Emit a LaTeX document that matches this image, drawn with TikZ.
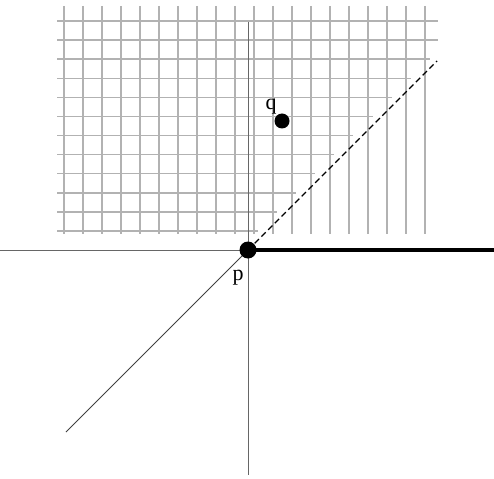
\documentclass[tikz,border=0pt]{standalone}
\usepackage{fontspec}
\setmainfont{Liberation Serif}
\begin{document}
\begin{tikzpicture}[x=1pt,y=-1pt,
  gridline/.style={draw=black!30,line width=1.4pt},
  axisline/.style={draw=black!60,line width=1pt},
  dotnode/.style={circle,fill=black,inner sep=0pt,minimum size=#1},
  lbl/.style={font=\fontsize{22}{24}\selectfont,inner sep=0pt,anchor=base}]
\useasboundingbox (0,0) rectangle (494,478);
% vertical grid lines
\foreach \k in {0,...,19}{
  \draw[gridline] ({64+19*\k},6) -- ({64+19*\k},234);
}
% horizontal grid lines (end before the dashed ray)
\foreach \k in {0,...,11}{
  \pgfmathsetmacro{\yy}{21+19.1*\k}
  \pgfmathsetmacro{\xe}{min(438,248+(250-\yy)-9)}
  \draw[gridline] (57,\yy) -- (\xe,\yy);
}
\coordinate (L) at (0,250);
\coordinate (R) at (494,250);
\coordinate (T) at (248,22);
\coordinate (B) at (248,475);
\coordinate (D) at (437,61);
\coordinate (E) at (66,432);
\coordinate (P) at (248,250);
\draw[axisline] (L) -- (P);
\draw[axisline] (T) -- (B);
\draw[black,line width=3.5pt] (P) -- (R);
\draw[black!75,line width=0.9pt] (E) -- (P);
\draw[black,line width=1.4pt,dash pattern=on 6pt off 3.5pt] (P) -- (D);
\node[dotnode=17pt] (p) at (P) {};
\node[dotnode=15pt] (q) at (282,121) {};
\node[lbl] (plabel) at (238,280) {p};
\node[lbl] (qlabel) at (271,110) {q};
\end{tikzpicture}
\end{document}
